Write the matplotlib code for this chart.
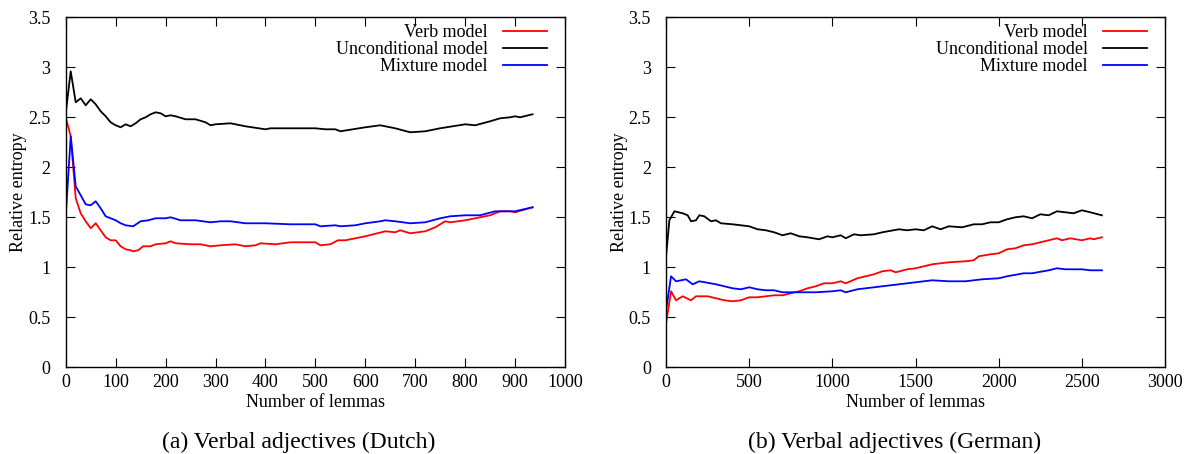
import matplotlib
matplotlib.use("Agg")
import matplotlib.pyplot as plt

plt.rcParams['font.family'] = ['Liberation Serif', 'DejaVu Serif']
plt.rcParams['mathtext.fontset'] = 'stix'

# ---------------- Data: (a) Dutch ----------------
dutch_verb_x = [0, 10, 20, 30, 40, 50, 60, 70, 80, 90, 100, 110, 120, 130, 135, 145, 155, 170, 180,
                200, 210, 220, 250, 270, 290, 310, 340, 360, 380, 390, 420, 450, 500, 510, 530, 545,
                560, 600, 640, 660, 670, 690, 720, 740, 760, 770, 800, 830, 850, 870, 890, 900, 935]
dutch_verb_y = [2.50, 2.31, 1.69, 1.54, 1.46, 1.39, 1.44, 1.37, 1.30, 1.27, 1.27, 1.21, 1.18, 1.17, 1.16,
                1.17, 1.21, 1.21, 1.23, 1.24, 1.26, 1.24, 1.23, 1.23, 1.21, 1.22, 1.23, 1.21, 1.22, 1.24,
                1.23, 1.25, 1.25, 1.22, 1.23, 1.27, 1.27, 1.31, 1.36, 1.35, 1.37, 1.34, 1.36, 1.40, 1.46,
                1.45, 1.47, 1.50, 1.52, 1.56, 1.56, 1.55, 1.60]

dutch_uncond_x = [0, 10, 20, 30, 40, 50, 60, 70, 80, 90, 100, 110, 120, 130, 140, 150, 160, 170, 180,
                  190, 200, 210, 220, 240, 260, 280, 290, 300, 330, 360, 400, 410, 450, 500, 520, 540,
                  550, 600, 630, 660, 690, 720, 750, 800, 820, 850, 870, 890, 900, 910, 935]
dutch_uncond_y = [2.54, 2.96, 2.65, 2.69, 2.62, 2.68, 2.63, 2.56, 2.51, 2.45, 2.42, 2.40, 2.43, 2.41,
                  2.44, 2.48, 2.50, 2.53, 2.55, 2.54, 2.51, 2.52, 2.51, 2.48, 2.48, 2.45, 2.42, 2.43,
                  2.44, 2.41, 2.38, 2.39, 2.39, 2.39, 2.38, 2.38, 2.36, 2.40, 2.42, 2.39, 2.35, 2.36,
                  2.39, 2.43, 2.42, 2.46, 2.49, 2.50, 2.51, 2.50, 2.53]

dutch_mix_x = [0, 10, 20, 30, 40, 50, 60, 70, 80, 90, 100, 110, 120, 135, 150, 165, 180, 200, 210, 230,
               260, 290, 310, 330, 360, 400, 450, 500, 510, 540, 550, 580, 600, 630, 640, 660, 690, 720,
               750, 770, 800, 830, 860, 880, 900, 935]
dutch_mix_y = [1.51, 2.31, 1.81, 1.72, 1.63, 1.62, 1.66, 1.59, 1.51, 1.49, 1.47, 1.44, 1.42, 1.41, 1.46,
               1.47, 1.49, 1.49, 1.50, 1.47, 1.47, 1.45, 1.46, 1.46, 1.44, 1.44, 1.43, 1.43, 1.41, 1.42,
               1.41, 1.42, 1.44, 1.46, 1.47, 1.46, 1.44, 1.45, 1.49, 1.51, 1.52, 1.52, 1.56, 1.56, 1.56,
               1.60]

# ---------------- Data: (b) German ----------------
german_verb_x = [0, 30, 60, 100, 150, 180, 250, 300, 350, 400, 450, 500, 550, 600, 650, 700, 750, 800,
                 850, 900, 950, 1000, 1050, 1080, 1150, 1250, 1300, 1350, 1380, 1450, 1500, 1600, 1700,
                 1800, 1850, 1880, 1950, 2000, 2050, 2100, 2150, 2200, 2250, 2300, 2350, 2380, 2430,
                 2500, 2550, 2570, 2620]
german_verb_y = [0.44, 0.76, 0.67, 0.71, 0.67, 0.71, 0.71, 0.69, 0.67, 0.66, 0.67, 0.70, 0.70, 0.71,
                 0.72, 0.72, 0.74, 0.76, 0.79, 0.81, 0.84, 0.84, 0.86, 0.84, 0.89, 0.93, 0.96, 0.97,
                 0.95, 0.98, 0.99, 1.03, 1.05, 1.06, 1.07, 1.11, 1.13, 1.14, 1.18, 1.19, 1.22, 1.23,
                 1.25, 1.27, 1.29, 1.27, 1.29, 1.27, 1.29, 1.28, 1.30]

german_uncond_x = [0, 20, 50, 100, 130, 150, 180, 200, 230, 270, 300, 330, 400, 450, 500, 550, 600,
                   650, 700, 750, 800, 850, 920, 970, 1000, 1050, 1080, 1130, 1170, 1250, 1300, 1400,
                   1450, 1500, 1550, 1600, 1650, 1700, 1780, 1850, 1900, 1950, 2000, 2050, 2100, 2150,
                   2200, 2250, 2300, 2350, 2400, 2450, 2500, 2550, 2620]
german_uncond_y = [1.11, 1.47, 1.56, 1.54, 1.52, 1.46, 1.47, 1.52, 1.51, 1.46, 1.47, 1.44, 1.43, 1.42,
                   1.41, 1.38, 1.37, 1.35, 1.32, 1.34, 1.31, 1.30, 1.28, 1.31, 1.30, 1.32, 1.29, 1.33,
                   1.32, 1.33, 1.35, 1.38, 1.37, 1.38, 1.37, 1.41, 1.38, 1.41, 1.40, 1.43, 1.43, 1.45,
                   1.45, 1.48, 1.50, 1.51, 1.49, 1.53, 1.52, 1.56, 1.55, 1.54, 1.57, 1.55, 1.52]

german_mix_x = [0, 30, 60, 120, 160, 200, 300, 350, 400, 450, 500, 550, 600, 650, 700, 800, 900, 1000,
                1050, 1080, 1150, 1200, 1300, 1400, 1500, 1600, 1700, 1800, 1900, 2000, 2050, 2150,
                2200, 2300, 2350, 2400, 2450, 2500, 2550, 2620]
german_mix_y = [0.57, 0.91, 0.86, 0.88, 0.83, 0.86, 0.83, 0.81, 0.79, 0.78, 0.80, 0.78, 0.77, 0.77,
                0.75, 0.75, 0.75, 0.76, 0.77, 0.75, 0.78, 0.79, 0.81, 0.83, 0.85, 0.87, 0.86, 0.86,
                0.88, 0.89, 0.91, 0.94, 0.94, 0.97, 0.99, 0.98, 0.98, 0.98, 0.97, 0.97]

labels = ["Verb model", "Unconditional model", "Mixture model"]
colors = ["#ff0000", "#000000", "#0000ff"]
y_ticks = [0, 0.5, 1, 1.5, 2, 2.5, 3, 3.5]
y_ticklabels = ["0", "0.5", "1", "1.5", "2", "2.5", "3", "3.5"]
left_xticks = [0, 100, 200, 300, 400, 500, 600, 700, 800, 900, 1000]
right_xticks = [0, 500, 1000, 1500, 2000, 2500, 3000]
captions = ["(a) Verbal adjectives (Dutch)", "(b) Verbal adjectives (German)"]

FS = 13

fig = plt.figure(figsize=(11.93, 4.54), dpi=100)
axL = fig.add_axes([0.0551, 0.1910, 0.4185, 0.7709])
axR = fig.add_axes([0.5583, 0.1910, 0.4183, 0.7709])

panels = [
    (axL, [(dutch_verb_x, dutch_verb_y), (dutch_uncond_x, dutch_uncond_y), (dutch_mix_x, dutch_mix_y)],
     left_xticks, 1000),
    (axR, [(german_verb_x, german_verb_y), (german_uncond_x, german_uncond_y), (german_mix_x, german_mix_y)],
     right_xticks, 3000),
]

for ax, series, xt, xmax in panels:
    for (xs, ys), lab, col in zip(series, labels, colors):
        ax.plot(xs, ys, color=col, lw=1.3, label=lab)
    ax.set_xlim(0, xmax)
    ax.set_ylim(0, 3.5)
    ax.set_xticks(xt)
    ax.set_xticklabels([str(v) for v in xt])
    ax.set_yticks(y_ticks)
    ax.set_yticklabels(y_ticklabels)
    ax.tick_params(direction='in', top=True, right=True, length=6.5, width=0.8, labelsize=FS)
    ax.tick_params(axis='y', pad=11)
    ax.tick_params(axis='x', pad=5)
    for sp in ax.spines.values():
        sp.set_linewidth(1.0)
    ax.set_xlabel("Number of lemmas", fontsize=FS, labelpad=2)
    ax.set_ylabel("Relative entropy", fontsize=FS, labelpad=0.5)
    ax.legend(loc='upper right', bbox_to_anchor=(0.964, 0.980), frameon=False, markerfirst=False,
              fontsize=FS, handlelength=2.44, handletextpad=0.85, labelspacing=0.0,
              borderpad=0, borderaxespad=0)

fig.text(0.25, 0.0132, captions[0], ha='center', va='baseline', fontsize=17)
fig.text(0.75, 0.0132, captions[1], ha='center', va='baseline', fontsize=17)

fig.savefig("out.png", dpi=100)
